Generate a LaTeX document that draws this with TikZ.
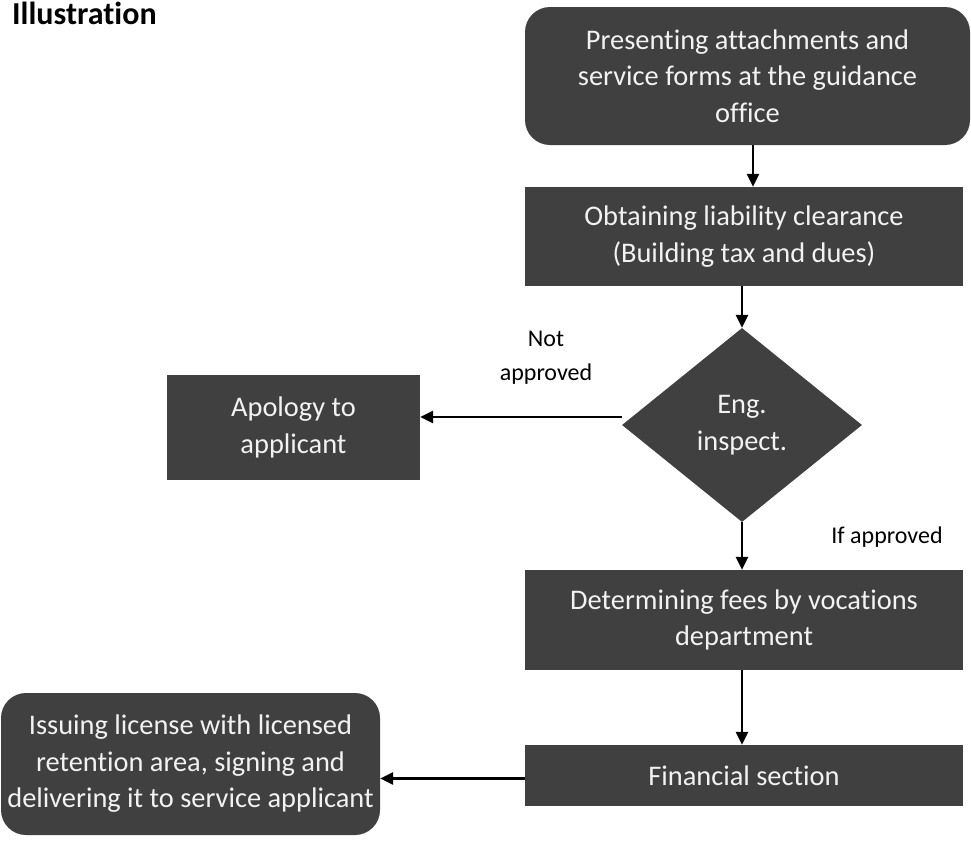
\documentclass[tikz,border=0pt]{standalone}
\usepackage{fontspec}
\setmainfont{Carlito}[Ligatures=NoCommon]
\usetikzlibrary{shapes.geometric,arrows.meta}
\definecolor{boxfill}{HTML}{404040}
\definecolor{boxtext}{HTML}{F2F2F2}
\begin{document}
\begin{tikzpicture}[x=1pt,y=-1pt,
  stepbox/.style={fill=boxfill,text=boxtext,inner sep=0pt,align=center,
    font=\fontsize{28.4}{36.5}\selectfont},
  roundbox/.style={stepbox,rounded corners=25pt},
  decision/.style={diamond,fill=boxfill,text=boxtext,inner sep=0pt,align=center,
    font=\fontsize{28.4}{36.5}\selectfont},
  note/.style={align=center,inner sep=0pt,font=\fontsize{24}{34}\selectfont},
  arr/.style={line width=2.5pt,-{Triangle[width=12pt,length=13pt]}}]
\useasboundingbox (0,0) rectangle (971,846);

\node[anchor=base west,inner sep=0pt,font=\fontsize{32}{36}\selectfont\bfseries] (title) at (12,24) {Illustration};

\node[roundbox,minimum width=445pt,minimum height=138pt] (present) at (747.5,76)
  {\raisebox{-3pt}{\parbox{440pt}{\centering Presenting attachments and\\service forms at the guidance\\office}}};
\node[stepbox,minimum width=438pt,minimum height=99pt] (clear) at (744,236.5)
  {Obtaining liability clearance\\(Building tax and dues)};
\node[decision,minimum width=240pt,minimum height=194pt] (insp) at (742,425)
  {Eng.\\inspect.};
\node[stepbox,minimum width=253pt,minimum height=105pt] (apology) at (293.5,427.5)
  {Apology to\\applicant};
\node[stepbox,minimum width=438pt,minimum height=100pt] (fees) at (744,620)
  {Determining fees by vocations\\department};
\node[stepbox,minimum width=438pt,minimum height=61pt] (fin) at (744,775.5)
  {Financial section};
\node[roundbox,minimum width=379pt,minimum height=142pt] (issue) at (190.5,764)
  {\raisebox{-4pt}{\parbox{375pt}{\centering Issuing license with licensed\\retention area, signing and\\delivering it to service applicant}}};

\node[note] (notapp) at (546,358) {Not\\approved};
\node[note] (ifapp) at (887,537) {If approved};

\coordinate (xa) at (753,0);
\coordinate (xb) at (742,0);
\draw[arr] (present.south -| xa) -- (clear.north -| xa);
\draw[arr] (clear.south -| xb) -- (insp.north);
\draw[arr] ([yshift=8pt]insp.west) -- ([yshift=8pt]insp.west -| apology.east);
\draw[arr] (insp.south) -- (fees.north -| xb);
\draw[arr] (fees.south -| xb) -- (fin.north -| xb);
\draw[arr] ([yshift=-3pt]fin.west) -- ([yshift=-3pt]fin.west -| issue.east);
\end{tikzpicture}
\end{document}
